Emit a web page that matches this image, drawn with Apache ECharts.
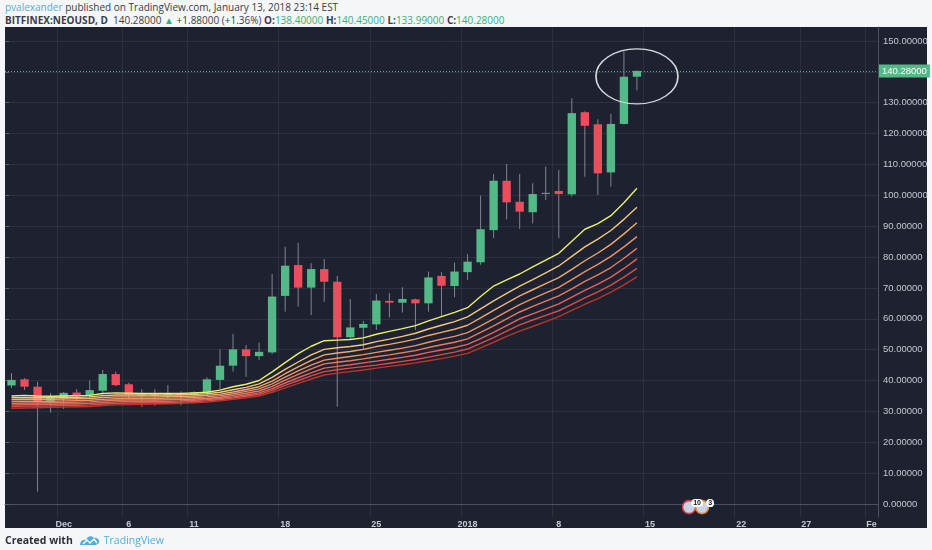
<!DOCTYPE html>
<html>
<head>
<meta charset="UTF-8">
<title>NEOUSD</title>
<script src="https://cdn.jsdelivr.net/npm/echarts@6/dist/echarts.min.js"></script>
<style>
    html, body { margin: 0; padding: 0; }
    body { width: 932px; height: 550px; background: #f4f6f8; position: relative; overflow: hidden; font-family: "Open Sans", "Liberation Sans", sans-serif; }
    #head { position: absolute; left: 5px; top: 1px; font-size: 10px; line-height: 12.5px; color: #3a3d44; white-space: nowrap; }
    #head b { font-weight: 700; }
    #head .u { color: #55acdc; }
    #head .g { color: #3dae76; }
    #panel { position: absolute; left: 5px; top: 27px; width: 922px; height: 501px; background: #1e2230; }
    #main { position: absolute; left: 0; top: 0; width: 932px; height: 550px; }
    #foot { position: absolute; left: 5px; top: 533px; font-size: 10.5px; color: #2c2f36; white-space: nowrap; }
    #foot svg { vertical-align: -3px; margin: 0 3px 0 6px; }
    #foot .tv { color: #55acdc; font-weight: 400; }
</style>
</head>
<body>
<div id="head">
    <div><span class="u">pvalexander</span> published on TradingView.com, January 13, 2018 23:14 EST</div>
    <div><b>BITFINEX:NEOUSD, D</b>&nbsp; 140.28000 <span class="g">&#9650;</span> +1.88000 (+1.36%) <b>O:</b><span class="g">138.40000</span> <b>H:</b><span class="g">140.45000</span> <b>L:</b><span class="g">133.99000</span> <b>C:</b><span class="g">140.28000</span></div>
</div>
<div id="panel"></div>
<div id="main"></div>
<div id="foot"><b>Created with</b><svg width="22" height="13" viewBox="0 0 22 13"><path d="M1 11 C1 7 4 5 7 6 C8 2 13 1 15 4 C18 3 21 6 20 9 L17 11 Z" fill="#55acdc"/><path d="M4 10 L8 6 L11 9 L15 5 L18 9" stroke="#ffffff" stroke-width="1.3" fill="none"/></svg><span class="tv">TradingView</span></div>
<script>
    // 日期（横轴）
    var days = ['11-27','11-28','11-29','11-30','12-01','12-02','12-03','12-04','12-05','12-06',
        '12-07','12-08','12-09','12-10','12-11','12-12','12-13','12-14','12-15','12-16',
        '12-17','12-18','12-19','12-20','12-21','12-22','12-23','12-24','12-25','12-26',
        '12-27','12-28','12-29','12-30','12-31','01-01','01-02','01-03','01-04','01-05',
        '01-06','01-07','01-08','01-09','01-10','01-11','01-12','01-13','01-14','01-15',
        '01-16','01-17','01-18','01-19','01-20','01-21','01-22','01-23','01-24','01-25',
        '01-26','01-27','01-28','01-29','01-30','01-31','02-01'];
    // 横轴显示的标签
    var dayLabels = {'12-01': 'Dec', '12-06': '6', '12-11': '11', '12-18': '18', '12-25': '25',
        '01-01': '2018', '01-08': '8', '01-15': '15', '01-22': '22', '01-27': '27', '02-01': 'Fe'};

    // K线
    var open  = [38.4,40.4,38.0,33.0,34.2,36.1,35.3,36.7,42.1,38.8,35.5,35.1,35.4,35.7,35.4,36.1,40.2,44.8,50.1,47.9,
                 49.1,67.4,77.4,70.1,76.1,72.0,54.0,57.1,58.2,65.8,65.2,66.3,65.0,73.9,70.6,75.1,78.3,88.7,104.7,97.9,
                 94.5,100.8,101.4,100.3,126.9,123.0,107.4,123.1,138.40];
    var high  = [42.4,40.8,39.6,36.0,36.3,37.2,40.0,43.4,42.9,39.3,37.2,37.2,38.5,36.5,36.5,41.0,50.1,55.1,51.5,52.3,
                 74.5,83.3,84.6,78.0,79.3,73.9,66.4,59.3,68.0,68.3,70.2,66.5,75.3,75.1,78.2,80.9,99.9,106.9,110.1,106.9,
                 103.9,109.3,108.2,131.4,127.2,124.6,126.4,146.5,140.45];
    var low   = [37.6,36.9,4.0,29.6,30.8,33.5,34.0,35.5,38.2,34.0,31.5,31.8,33.5,32.0,34.0,35.0,37.2,42.9,41.2,46.6,
                 48.5,62.3,63.9,61.2,65.5,31.5,53.5,50.1,56.4,60.4,62.0,56.4,62.3,60.7,67.0,72.6,77.5,86.1,92.2,89.1,
                 90.9,98.5,86.1,99.6,106.0,100.1,102.8,122.9,133.99];
    var close = [40.2,38.0,33.0,34.5,36.0,35.0,36.9,42.1,38.5,35.5,35.1,35.4,35.7,35.3,36.2,40.4,44.8,50.1,47.9,49.3,
                 67.2,77.2,70.1,76.1,72.0,54.0,57.2,58.3,65.9,65.2,66.4,65.0,73.4,70.7,75.3,78.5,89.0,104.7,97.7,94.7,
                 100.4,100.8,100.4,126.6,122.5,107.1,123.1,138.4,140.28];
    var lastPrice = 140.28;

    // EMA 带（从上到下）
    var ema1 = [35.0,35.2,35.0,34.9,35.0,35.1,35.2,35.8,36.0,35.9,35.8,35.8,35.8,35.8,36.0,36.2,36.9,38.0,38.8,40.0,
                42.8,45.8,48.7,51.1,52.9,53.1,53.3,53.8,55.0,55.9,56.8,57.8,59.3,60.7,62.1,63.6,67.2,70.6,72.6,74.5,
                76.8,79.0,81.2,85.1,89.0,90.8,93.4,97.6,102.3];
    var ema2 = [34.4,34.5,34.4,34.4,34.5,34.6,34.7,35.1,35.3,35.3,35.3,35.3,35.3,35.3,35.5,35.7,36.2,37.0,37.8,38.9,
                41.0,43.6,46.0,48.3,50.1,50.6,51.0,51.6,52.6,53.4,54.3,55.3,56.7,57.9,59.1,60.6,63.2,65.8,68.2,70.6,
                72.7,74.9,77.1,80.2,83.3,85.8,88.6,92.2,96.1];
    var ema3 = [33.8,33.9,33.9,33.9,34.0,34.1,34.2,34.5,34.7,34.7,34.7,34.7,34.8,34.8,35.0,35.2,35.6,36.3,37.1,38.0,
                39.8,42.2,44.4,46.5,48.3,48.9,49.4,50.1,51.0,51.7,52.5,53.4,54.6,55.6,56.6,57.9,60.3,62.7,65.1,67.4,
                69.4,71.4,73.3,76.0,78.8,81.3,84.1,87.5,91.1];
    var ema4 = [33.2,33.3,33.3,33.3,33.4,33.5,33.6,33.9,34.1,34.2,34.2,34.2,34.3,34.3,34.5,34.7,35.1,35.7,36.5,37.3,
                38.9,41.1,43.1,45.0,46.6,47.2,47.8,48.4,49.1,49.8,50.5,51.3,52.4,53.4,54.3,55.5,57.7,60.0,62.3,64.6,
                66.5,68.4,70.2,72.7,75.3,77.6,80.2,83.3,86.6];
    var ema5 = [32.6,32.7,32.7,32.8,32.9,33.0,33.1,33.4,33.6,33.7,33.7,33.7,33.8,33.8,34.0,34.2,34.6,35.2,35.9,36.6,
                38.1,40.1,42.0,43.8,45.4,45.9,46.4,47.0,47.7,48.3,49.0,49.7,50.7,51.6,52.4,53.5,55.6,57.7,60.0,62.2,
                64.0,65.7,67.4,69.7,72.1,74.2,76.6,79.6,82.8];
    var ema6 = [32.1,32.2,32.2,32.3,32.4,32.5,32.6,32.9,33.1,33.2,33.2,33.3,33.3,33.4,33.6,33.8,34.2,34.7,35.3,36.0,
                37.4,39.2,40.9,42.5,44.0,44.6,45.1,45.7,46.3,46.9,47.5,48.2,49.1,49.9,50.7,51.7,53.6,55.6,57.8,60.0,
                61.6,63.2,64.8,67.0,69.2,71.2,73.5,76.3,79.4];
    var ema7 = [31.6,31.7,31.7,31.8,31.9,32.0,32.1,32.4,32.6,32.7,32.8,32.8,32.9,33.0,33.2,33.4,33.8,34.3,34.9,35.5,
                36.8,38.4,40.0,41.5,42.9,43.5,44.0,44.5,45.0,45.6,46.2,46.8,47.6,48.4,49.2,50.2,52.0,53.9,56.0,58.0,
                59.6,61.1,62.6,64.7,66.8,68.7,70.9,73.5,76.3];
    var ema8 = [31.0,31.1,31.2,31.3,31.4,31.5,31.6,31.9,32.1,32.2,32.3,32.4,32.5,32.6,32.8,33.0,33.4,33.9,34.4,35.0,
                36.2,37.6,39.1,40.5,41.8,42.4,42.9,43.4,44.0,44.6,45.1,45.7,46.4,47.1,47.9,48.8,50.6,52.4,54.3,56.0,
                57.5,59.1,60.7,62.7,64.7,66.5,68.6,71.0,73.6];
    var emaColors = ['#e9f06c', '#f3c77c', '#f2aa6c', '#ee9164', '#e97a60', '#e4635a', '#d94d4b', '#bd3427'];

    // 经济事件标记（日期，数量）
    var eventDays = ['01-18', '01-19'];
    var eventCounts = ['10', '3'];
    var eventBorders = ['#d8404f', '#e0893a'];

    var upColor = '#53b987', downColor = '#eb4d5c', wickColor = '#80848e';
    var gridColor = '#2c3141', textColor = '#c3c8d0';

    var candles = [];
    for (var i = 0; i < open.length; i++) {
        candles.push([i, open[i], close[i], low[i], high[i]]);
    }

    function renderCandle(params, api) {
        var x = api.value(0);
        var o = api.coord([x, api.value(1)]);
        var c = api.coord([x, api.value(2)]);
        var l = api.coord([x, api.value(3)]);
        var h = api.coord([x, api.value(4)]);
        var w = api.size([1, 0])[0] * 0.64;
        var color = api.value(2) > api.value(1) ? upColor : (api.value(2) < api.value(1) ? downColor : wickColor);
        var top = Math.min(o[1], c[1]);
        var bh = Math.max(Math.abs(o[1] - c[1]), 1.2);
        return {
            type: 'group',
            children: [
                { type: 'line', shape: { x1: h[0], y1: h[1], x2: l[0], y2: l[1] }, style: { stroke: wickColor, lineWidth: 1 } },
                { type: 'rect', shape: { x: o[0] - w / 2, y: top, width: w, height: bh }, style: { fill: color } }
            ]
        };
    }

    var emaSeries = [ema1, ema2, ema3, ema4, ema5, ema6, ema7, ema8].map(function (d, k) {
        return {
            name: 'EMA' + (k + 1), type: 'line', data: d, showSymbol: false, silent: true, z: 5 + (8 - k),
            lineStyle: { color: emaColors[k], width: 1.4 }
        };
    });

    // 事件小图标
    var eventPoints = [];
    eventDays.forEach(function (d, k) {
        eventPoints.push({
            coord: [d, -1], symbol: 'circle', symbolSize: 13,
            itemStyle: { color: '#c9d3e6', borderColor: eventBorders[k], borderWidth: 1.6 },
            label: {
                show: true, formatter: eventCounts[k], offset: [8, -4], position: 'inside',
                color: '#111111', fontSize: 7, fontWeight: 'bold', backgroundColor: '#ffffff',
                borderRadius: 5, padding: [1, 2, 0, 2], fontFamily: 'Liberation Sans'
            }
        });
    });

    var myChart = echarts.init(document.getElementById('main'));
    var option = {
        animation: false,
        backgroundColor: 'transparent',
        grid: [
            { left: 5, right: 54, top: 27, bottom: 33 },
            { left: 5, right: 54, top: 40.9, bottom: 46 }
        ],
        xAxis: [
            {
                type: 'category', gridIndex: 0, data: days, boundaryGap: true,
                axisLine: { lineStyle: { color: '#4b5161' } },
                axisTick: { show: false },
                axisLabel: {
                    interval: function (idx, val) { return !!dayLabels[val]; },
                    formatter: function (val) { return dayLabels[val] || ''; },
                    color: textColor, fontSize: 9, fontWeight: 'bold', margin: 3,
                    fontFamily: 'Liberation Sans'
                },
                splitLine: {
                    show: true,
                    interval: function (idx, val) { return !!dayLabels[val]; },
                    lineStyle: { color: gridColor, width: 1 }
                }
            },
            { type: 'value', gridIndex: 1, show: false, min: 0, max: 1 }
        ],
        yAxis: [
            {
                type: 'value', gridIndex: 0, position: 'right', min: -4.2, max: 154.5,
                axisLine: { show: true, lineStyle: { color: '#4b5161' } },
                axisTick: { show: false }, axisLabel: { show: false }, splitLine: { show: false }
            },
            {
                type: 'value', gridIndex: 1, position: 'right', min: 0, max: 150, interval: 10,
                axisLine: { show: false },
                axisTick: { show: true, length: 4, lineStyle: { color: '#5b6170' } },
                axisLabel: {
                    color: textColor, fontSize: 9.5, margin: 5, fontFamily: 'Liberation Sans',
                    formatter: function (v) { return v.toFixed(5); }
                },
                splitLine: { show: true, lineStyle: { color: gridColor, width: 1 } }
            }
        ],
        series: [
            {
                name: 'NEOUSD', type: 'custom', renderItem: renderCandle, data: candles, z: 3,
                encode: { x: 0, y: [1, 2, 3, 4] },
                markLine: {
                    silent: true, symbol: 'none', animation: false,
                    lineStyle: { color: '#3fae88', type: [1, 2], width: 1 },
                    label: {
                        show: true, position: 'end', distance: 1,
                        formatter: function () { return lastPrice.toFixed(5); },
                        color: '#ffffff', backgroundColor: '#53b987', padding: [2, 3, 1, 3],
                        fontSize: 9.5, fontFamily: 'Liberation Sans'
                    },
                    data: [{ yAxis: lastPrice }]
                },
                markPoint: {
                    silent: true, animation: false,
                    data: [{
                        coord: ['01-14', 138.5], symbol: 'circle', symbolSize: [82, 55],
                        itemStyle: { color: 'rgba(0,0,0,0)', borderColor: '#d6d9de', borderWidth: 1.4 },
                        label: { show: false }
                    }].concat(eventPoints)
                }
            }
        ].concat(emaSeries)
    };
    myChart.setOption(option);
</script>
</body>
</html>
